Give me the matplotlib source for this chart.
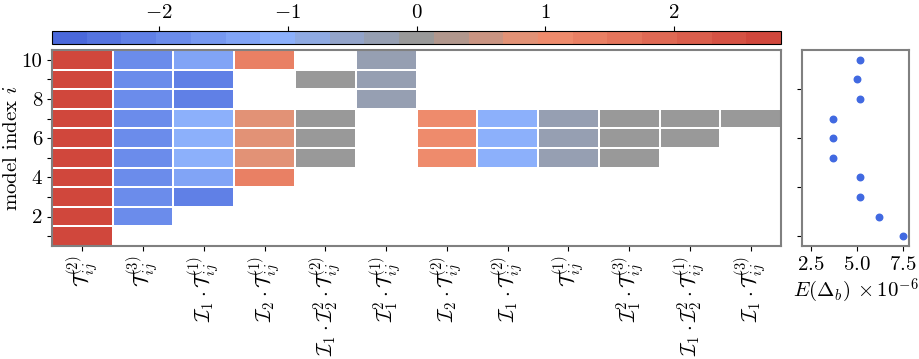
import matplotlib
matplotlib.use("Agg")
import matplotlib.pyplot as plt
import numpy as np
from matplotlib.colors import LinearSegmentedColormap, Normalize

plt.rcParams["mathtext.fontset"] = "cm"
plt.rcParams["font.family"] = "serif"
plt.rcParams["font.serif"] = ["cmr10", "DejaVu Serif"]
plt.rcParams["axes.formatter.use_mathtext"] = True
plt.rcParams["font.size"] = 15

nan = np.nan

# column labels (terms)
col_labels = [
    r"$\mathcal{T}_{ij}^{(2)}$",
    r"$\mathcal{T}_{ij}^{(3)}$",
    r"$\mathcal{I}_1\cdot\mathcal{T}_{ij}^{(1)}$",
    r"$\mathcal{I}_2\cdot\mathcal{T}_{ij}^{(1)}$",
    r"$\mathcal{I}_1\cdot\mathcal{I}_2^2\cdot\mathcal{T}_{ij}^{(2)}$",
    r"$\mathcal{I}_1^2\cdot\mathcal{T}_{ij}^{(1)}$",
    r"$\mathcal{I}_2\cdot\mathcal{T}_{ij}^{(2)}$",
    r"$\mathcal{I}_1\cdot\mathcal{T}_{ij}^{(2)}$",
    r"$\mathcal{T}_{ij}^{(1)}$",
    r"$\mathcal{I}_1^2\cdot\mathcal{T}_{ij}^{(3)}$",
    r"$\mathcal{I}_1\cdot\mathcal{I}_2^2\cdot\mathcal{T}_{ij}^{(1)}$",
    r"$\mathcal{I}_1\cdot\mathcal{T}_{ij}^{(3)}$",
]

# coefficients per term, model index 1..10 (bottom to top)
c1 = [2.83, 2.83, 2.83, 2.83, 2.83, 2.83, 2.83, 2.83, 2.83, 2.83]
c2 = [nan, -1.95, -1.95, -1.95, -1.95, -1.95, -1.95, -1.95, -1.95, -1.95]
c3 = [nan, nan, -2.2, -1.3, -1.0, -1.0, -1.0, -2.2, -2.2, -1.3]
c4 = [nan, nan, nan, 1.35, 0.8, 0.8, 0.8, nan, nan, 1.35]
c5 = [nan, nan, nan, nan, 0.02, 0.02, 0.02, nan, 0.02, nan]
c6 = [nan, nan, nan, nan, nan, nan, nan, -0.3, -0.3, -0.3]
c7 = [nan, nan, nan, nan, 1.1, 1.1, 1.1, nan, nan, nan]
c8 = [nan, nan, nan, nan, -1.0, -1.0, -1.0, nan, nan, nan]
c9 = [nan, nan, nan, nan, -0.3, -0.3, -0.3, nan, nan, nan]
c10 = [nan, nan, nan, nan, 0.0, 0.0, 0.0, nan, nan, nan]
c11 = [nan, nan, nan, nan, nan, 0.0, 0.0, nan, nan, nan]
c12 = [nan, nan, nan, nan, nan, nan, 0.0, nan, nan, nan]

model_index = [1, 2, 3, 4, 5, 6, 7, 8, 9, 10]
# E(Delta_b) x 1e-6 per model
error_b = [7.5, 6.19, 5.16, 5.16, 3.74, 3.72, 3.69, 5.16, 5.02, 5.16]

data = np.array([c1, c2, c3, c4, c5, c6, c7, c8, c9, c10, c11, c12]).T
vmax = np.nanmax(np.abs(data))

cmap = LinearSegmentedColormap.from_list(
    "bgr",
    [(0.0, "#4a68db"), (0.3, "#8cb0fb"), (0.5, "#999999"),
     (0.68, "#f0906f"), (1.0, "#d0473c")],
    N=21,
)
norm = Normalize(vmin=-vmax, vmax=vmax)

fig = plt.figure(figsize=(9.2, 3.59), dpi=100)
ax = fig.add_axes([0.0565, 0.315, 0.7925, 0.546])
cax = fig.add_axes([0.0565, 0.877, 0.7925, 0.036])
ax2 = fig.add_axes([0.872, 0.315, 0.116, 0.546])

ncol = len(col_labels)
xe = np.arange(ncol + 1) + 0.5
ye = np.arange(len(model_index) + 1) + 0.5
mesh = ax.pcolormesh(xe, ye, np.ma.masked_invalid(data), cmap=cmap, norm=norm,
                     edgecolors="white", linewidth=1.1)
ax.set_xlim(0.5, ncol + 0.5)
ax.set_ylim(0.5, 10.5)
ax.set_xticks(np.arange(1, ncol + 1))
ax.set_xticklabels(col_labels, rotation=90, va="top", ha="center")
ax.set_yticks(model_index)
ax.set_yticklabels([str(m) if m % 2 == 0 else "" for m in model_index])
ax.set_ylabel(r"model index $i$", labelpad=0)
for s in ax.spines.values():
    s.set_color("#808080")
    s.set_linewidth(1.5)

cb = fig.colorbar(mesh, cax=cax, orientation="horizontal")
cax.xaxis.set_ticks_position("top")
cax.xaxis.set_label_position("top")
cb.set_ticks([-2, -1, 0, 1, 2])
cb.outline.set_linewidth(0.8)

ax2.scatter(error_b, np.arange(len(error_b)), s=22, color="royalblue", zorder=3)
ax2.set_xlim(2.05, 7.82)
ax2.set_ylim(-0.5, 9.5)
ax2.set_xticks([2.5, 5.0, 7.5])
ax2.set_yticks([0, 2.5, 5, 7.5])
ax2.set_yticklabels([])
ax2.set_xlabel(r"$E(\Delta_b)\,\times 10^{-6}$", labelpad=2)
for s in ax2.spines.values():
    s.set_color("#808080")
    s.set_linewidth(1.5)

fig.savefig("out.png", dpi=100)
